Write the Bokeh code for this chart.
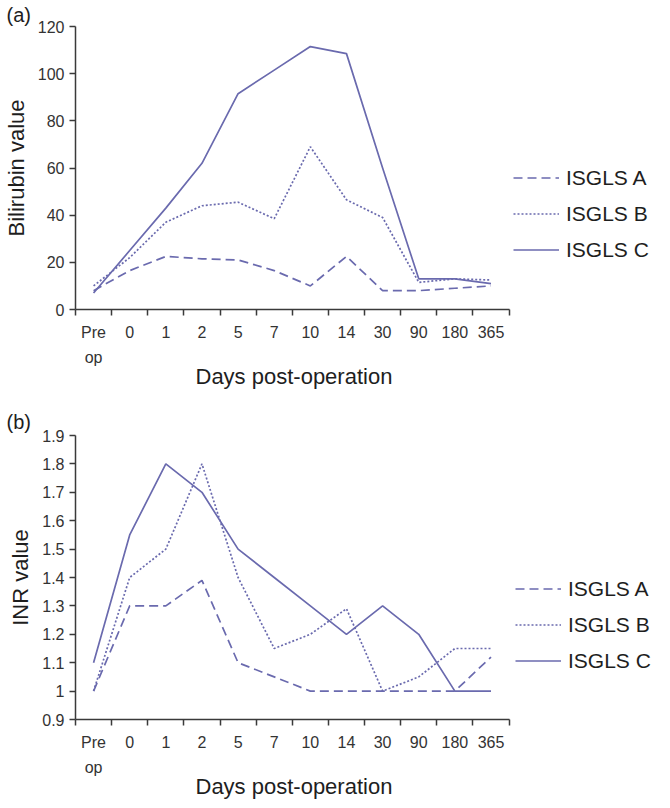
from bokeh.plotting import figure
from bokeh.models import Range1d, FixedTicker, Legend, LegendItem, NumeralTickFormatter, Title
from bokeh.layouts import column
from bokeh.embed import file_html
from bokeh.resources import INLINE

# ---- data ----
days = ["Pre op", "0", "1", "2", "5", "7", "10", "14", "30", "90", "180", "365"]
series_names = ["ISGLS A", "ISGLS B", "ISGLS C"]
x_title = "Days post-operation"

bili_a = [8, 16.5, 22.5, 21.5, 21, 16.5, 10, 22.5, 8, 8, 9, 10]
bili_b = [10, 22, 37, 44, 45.5, 38.5, 69, 46.5, 39, 11.5, 13, 12.5]
bili_c = [7, 25, 43, 62, 91.5, 101.5, 111.5, 108.5, 60, 13, 13, 11]
bili_ticks = [0, 20, 40, 60, 80, 100, 120]

inr_a = [1.0, 1.3, 1.3, 1.39, 1.1, 1.05, 1.0, 1.0, 1.0, 1.0, 1.0, 1.12]
inr_b = [1.0, 1.4, 1.5, 1.8, 1.4, 1.15, 1.2, 1.29, 1.0, 1.05, 1.15, 1.15]
inr_c = [1.1, 1.55, 1.8, 1.7, 1.5, 1.4, 1.3, 1.2, 1.3, 1.2, 1.0, 1.0]
inr_ticks = [0.9, 1.0, 1.1, 1.2, 1.3, 1.4, 1.5, 1.6, 1.7, 1.8, 1.9]

LINE_COLOR = "#6a6aae"
AXIS_COLOR = "#3a3a3a"
TEXT_COLOR = "#1e1e1e"
FONT = "Liberation Sans"
dashes = ["9 5", "2 2", "solid"]

WIDTH = 662
BORDER_L = 69
FRAME_W = WIDTH - BORDER_L   # frame includes the legend area on the right
AXIS_W = 438                 # width taken by the 12 day categories


def make_panel(tag, ylabel, values, yticks, height, border_top, border_bottom,
               tag_standoff, legend_x, legend_y, yformat=None):
    n = len(days)
    xs = [i + 0.5 for i in range(n)]
    x_end = n * FRAME_W / AXIS_W
    p = figure(width=WIDTH, height=height,
               x_range=Range1d(0, x_end),
               y_range=Range1d(yticks[0], yticks[-1]),
               output_backend="svg", toolbar_location=None,
               min_border_left=BORDER_L, min_border_right=0,
               min_border_top=border_top, min_border_bottom=border_bottom)
    p.outline_line_color = None
    p.grid.visible = False
    p.background_fill_color = "white"
    p.border_fill_color = "white"

    p.title.text = tag
    p.title.text_font = FONT
    p.title.text_font_size = "20px"
    p.title.text_font_style = "normal"
    p.title.text_color = TEXT_COLOR
    p.title.align = "left"
    p.title.offset = -BORDER_L
    p.title.standoff = tag_standoff

    renderers = []
    for vals, dash in zip(values, dashes):
        r = p.line(xs, vals, line_color=LINE_COLOR, line_width=1.7,
                   line_dash=dash)
        renderers.append(r)

    xa = p.xaxis[0]
    xa.bounds = (0, n)
    xa.ticker = FixedTicker(ticks=xs, minor_ticks=list(range(n + 1)))
    xa.major_label_overrides = {x: d.replace(" ", "\n") for x, d in zip(xs, days)}
    xa.major_tick_out = 0
    xa.major_tick_in = 0
    xa.minor_tick_out = 6
    xa.minor_tick_in = 0
    xa.minor_tick_line_color = AXIS_COLOR
    xa.minor_tick_line_width = 1.5
    xa.major_label_standoff = 8
    xa.major_label_text_font = FONT
    xa.major_label_text_font_size = "16px"
    xa.major_label_text_line_height = 1.5
    xa.major_label_text_color = "#333333"
    xa.axis_line_color = AXIS_COLOR
    xa.axis_line_width = 1.5

    # x-axis title, centred under the day categories (not the legend area)
    xt = Title(text=x_title, align="left", offset=120, standoff=-16,
               text_font=FONT, text_font_size="22px", text_font_style="normal",
               text_color=TEXT_COLOR)
    p.add_layout(xt, "below")

    ya = p.yaxis[0]
    ya.ticker = FixedTicker(ticks=yticks)
    if yformat:
        ya.formatter = NumeralTickFormatter(format=yformat)
    ya.major_tick_out = 6
    ya.major_tick_in = 0
    ya.minor_tick_out = 0
    ya.minor_tick_in = 0
    ya.major_tick_line_color = AXIS_COLOR
    ya.major_tick_line_width = 1.5
    ya.major_label_standoff = 5
    ya.major_label_text_font = FONT
    ya.major_label_text_font_size = "16px"
    ya.major_label_text_color = "#333333"
    ya.axis_line_color = AXIS_COLOR
    ya.axis_line_width = 1.5
    ya.axis_label = ylabel
    ya.axis_label_text_font = FONT
    ya.axis_label_text_font_size = "22px"
    ya.axis_label_text_font_style = "normal"
    ya.axis_label_text_color = TEXT_COLOR
    ya.axis_label_standoff = 6

    items = [LegendItem(label=nm, renderers=[r]) for nm, r in zip(series_names, renderers)]
    legend = Legend(items=items, location=(legend_x, legend_y))
    legend.border_line_color = None
    legend.background_fill_alpha = 0
    legend.padding = 0
    legend.margin = 0
    legend.spacing = 11
    legend.glyph_width = 46
    legend.glyph_height = 25
    legend.label_height = 25
    legend.label_standoff = 7
    legend.label_text_font = FONT
    legend.label_text_font_size = "21px"
    legend.label_text_color = TEXT_COLOR
    p.add_layout(legend, "center")
    return p


p1 = make_panel("(a)", "Bilirubin value", [bili_a, bili_b, bili_c], bili_ticks,
                height=392, border_top=25, border_bottom=83, tag_standoff=2,
                legend_x=438, legend_y=47)
p2 = make_panel("(b)", "INR value", [inr_a, inr_b, inr_c], inr_ticks,
                height=408, border_top=43, border_bottom=81, tag_standoff=6,
                legend_x=440, legend_y=46, yformat="0.[0]")

layout = column(p1, p2, spacing=0)
open("out.html", "w").write(file_html(layout, INLINE))
